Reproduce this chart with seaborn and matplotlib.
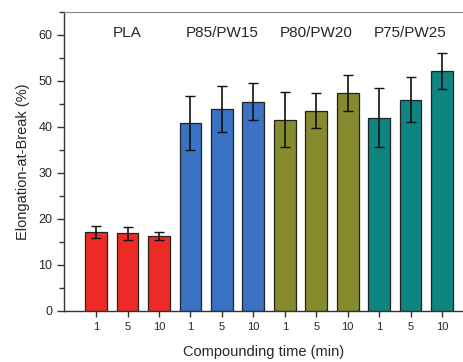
import pandas as pd
import matplotlib
matplotlib.use("Agg")
import matplotlib.pyplot as plt
import seaborn as sns
from matplotlib.ticker import MultipleLocator

# data
groups = ["PLA", "P85/PW15", "P80/PW20", "P75/PW25"]
times = ["1", "5", "10"]
elongation = [17.1, 16.9, 16.3,
              40.9, 43.9, 45.5,
              41.6, 43.5, 47.4,
              42.0, 45.9, 52.1]
elong_err = [1.3, 1.4, 0.9,
             5.9, 5.0, 4.0,
             6.0, 3.8, 4.0,
             6.4, 4.9, 3.9]
colors = ["#EE2A24", "#3B73C4", "#858A2C", "#0E8580"]

sns.set_style("ticks")
plt.rcParams["font.family"] = ["Liberation Sans", "DejaVu Sans"]

df = pd.DataFrame({
    "sample": [f"{g}_{t}" for g in groups for t in times],
    "group": [g for g in groups for _ in times],
    "time": [t for _ in groups for t in times],
    "value": elongation,
})

fig = plt.figure(figsize=(4.64, 3.62), dpi=100)
ax = fig.add_axes([0.138, 0.141, 0.862, 0.826])

sns.barplot(data=df, x="sample", y="value", hue="group", palette=colors,
            saturation=1, dodge=False, width=0.69, edgecolor="#222222",
            linewidth=0.9, legend=False, ax=ax)
ax.errorbar(range(len(df)), df["value"], yerr=elong_err, fmt="none",
            ecolor="#111111", elinewidth=1.2, capsize=3.5, capthick=1.0)

# group names above each set of bars
for i, g in enumerate(groups):
    ax.text(3 * i + 1, 60.5, g, ha="center", va="center", fontsize=11)

ax.set_xlim(-1.02, 11.7)
ax.set_ylim(0, 65)
ax.set_xticks(range(len(df)))
ax.set_xticklabels(df["time"], fontsize=8)
ax.yaxis.set_minor_locator(MultipleLocator(5))
ax.set_yticks(range(0, 61, 10))
ax.tick_params(axis="y", labelsize=9, length=5, width=1, direction="out",
               color="#333333")
ax.tick_params(axis="y", which="minor", length=3.5, width=1, color="#333333")
ax.tick_params(axis="x", length=4.5, width=1, direction="out", color="#333333")

ax.set_xlabel("Compounding time (min)", fontsize=10.5, labelpad=9)
ax.set_ylabel("Elongation-at-Break (%)", fontsize=10.5, labelpad=6)

for side in ["left", "bottom"]:
    ax.spines[side].set_color("#333333")
    ax.spines[side].set_linewidth(1)
ax.spines["top"].set_color("#888888")
ax.spines["right"].set_visible(False)

fig.savefig("out.png", dpi=100)
